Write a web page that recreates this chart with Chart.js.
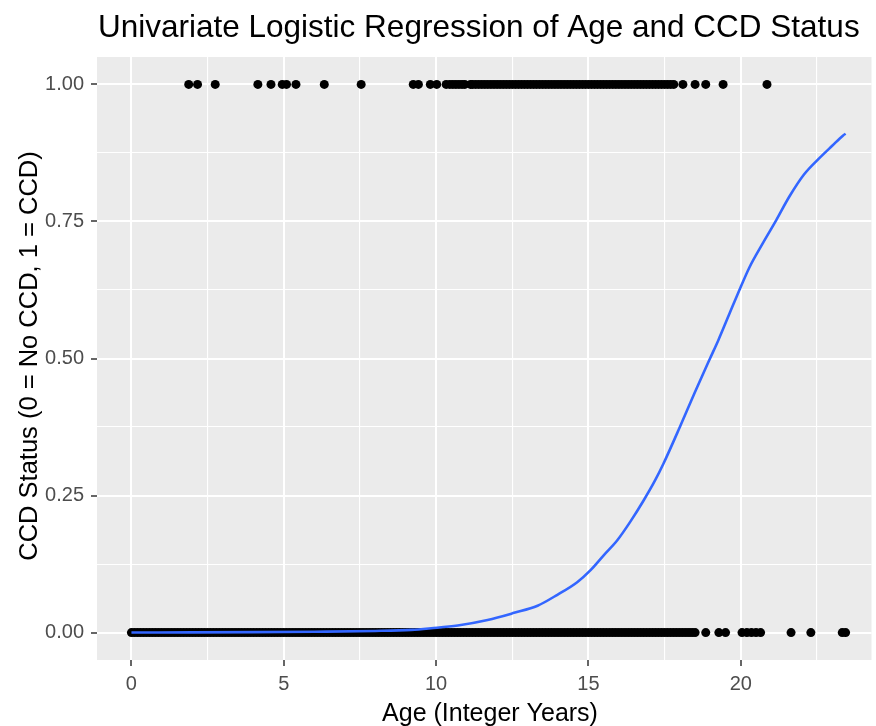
<!DOCTYPE html>
<html>
<head>
<meta charset="utf-8">
<script src="https://cdn.jsdelivr.net/npm/chart.js@4"></script>
<style>
html,body{margin:0;padding:0;background:#ffffff;}
canvas{display:block;}
</style>
</head>
<body>
<canvas id="c" width="876" height="726" style="width:876px;height:726px"></canvas>
<script>
// ---- data ----
const titleText = "Univariate Logistic Regression of Age and CCD Status";
const xTitle = "Age (Integer Years)";
const yTitle = "CCD Status (0 = No CCD, 1 = CCD)";

// ages of observations with CCD (status = 1)
const ccdAges = [1.88, 2.17, 2.75, 4.15, 4.58, 4.95, 5.09, 5.40, 6.33, 7.54,
  9.25, 9.42, 9.81, 10.02, 10.33, 10.45, 10.55, 10.65, 10.75, 10.85, 10.94,
  11.13, 11.2, 11.3, 11.4, 11.5, 11.6, 11.7, 11.8, 11.9,
  12, 12.1, 12.2, 12.3, 12.4, 12.5, 12.6, 12.7, 12.8, 12.9,
  13, 13.1, 13.2, 13.3, 13.4, 13.5, 13.6, 13.7, 13.8, 13.9,
  14, 14.1, 14.2, 14.3, 14.4, 14.5, 14.6, 14.7, 14.8, 14.9,
  15, 15.1, 15.2, 15.3, 15.4, 15.5, 15.6, 15.7, 15.8, 15.9,
  16, 16.1, 16.2, 16.3, 16.4, 16.5, 16.6, 16.7, 16.8, 16.9,
  17, 17.1, 17.2, 17.3, 17.4, 17.5, 17.6, 17.7, 17.8,
  18.1, 18.5, 18.85, 19.42, 20.86];

// ages of observations without CCD (status = 0)
const noCcdAges = [
  0, 0.1, 0.2, 0.3, 0.4, 0.5, 0.6, 0.7, 0.8, 0.9,
  1, 1.1, 1.2, 1.3, 1.4, 1.5, 1.6, 1.7, 1.8, 1.9,
  2, 2.1, 2.2, 2.3, 2.4, 2.5, 2.6, 2.7, 2.8, 2.9,
  3, 3.1, 3.2, 3.3, 3.4, 3.5, 3.6, 3.7, 3.8, 3.9,
  4, 4.1, 4.2, 4.3, 4.4, 4.5, 4.6, 4.7, 4.8, 4.9,
  5, 5.1, 5.2, 5.3, 5.4, 5.5, 5.6, 5.7, 5.8, 5.9,
  6, 6.1, 6.2, 6.3, 6.4, 6.5, 6.6, 6.7, 6.8, 6.9,
  7, 7.1, 7.2, 7.3, 7.4, 7.5, 7.6, 7.7, 7.8, 7.9,
  8, 8.1, 8.2, 8.3, 8.4, 8.5, 8.6, 8.7, 8.8, 8.9,
  9, 9.1, 9.2, 9.3, 9.4, 9.5, 9.6, 9.7, 9.8, 9.9,
  10, 10.1, 10.2, 10.3, 10.4, 10.5, 10.6, 10.7, 10.8, 10.9,
  11, 11.1, 11.2, 11.3, 11.4, 11.5, 11.6, 11.7, 11.8, 11.9,
  12, 12.1, 12.2, 12.3, 12.4, 12.5, 12.6, 12.7, 12.8, 12.9,
  13, 13.1, 13.2, 13.3, 13.4, 13.5, 13.6, 13.7, 13.8, 13.9,
  14, 14.1, 14.2, 14.3, 14.4, 14.5, 14.6, 14.7, 14.8, 14.9,
  15, 15.1, 15.2, 15.3, 15.4, 15.5, 15.6, 15.7, 15.8, 15.9,
  16, 16.1, 16.2, 16.3, 16.4, 16.5, 16.6, 16.7, 16.8, 16.9,
  17, 17.1, 17.2, 17.3, 17.4, 17.5, 17.6, 17.7, 17.8, 17.9,
  18, 18.1, 18.2, 18.3, 18.4, 18.5,
  18.85, 19.28, 19.5, 20.04, 20.2, 20.35, 20.5, 20.65, 21.65, 22.3, 23.33, 23.44];

// fitted logistic curve
const curveAges  = [0, 2, 4, 6, 8, 9.19, 9.84, 10.71, 11.69, 12.56, 13.33, 13.98,
  14.63, 15.07, 15.50, 15.94, 16.37, 16.81, 17.19, 17.46, 18.0, 18.49, 18.99,
  19.26, 19.63, 19.91, 20.29, 20.72, 21.16, 21.59, 22.08, 22.57, 23.0, 23.36, 23.44];
const curveProbs = [0.0002, 0.0004, 0.0008, 0.0016, 0.003, 0.005, 0.008, 0.013,
  0.023, 0.036, 0.049, 0.069, 0.092, 0.114, 0.141, 0.168, 0.202, 0.241, 0.278,
  0.308, 0.375, 0.438, 0.500, 0.533, 0.582, 0.619, 0.667, 0.710, 0.752, 0.795,
  0.836, 0.865, 0.888, 0.907, 0.910];

const xMajorTicks = [0, 5, 10, 15, 20];
const xMinorTicks = [2.5, 7.5, 12.5, 17.5, 22.5];
const yMajorTicks = [0, 0.25, 0.5, 0.75, 1];
const yMinorTicks = [0.125, 0.375, 0.625, 0.875];
const yTickLabels = ["0.00", "0.25", "0.50", "0.75", "1.00"];

// ---- chart ----
const FONT = "'Liberation Sans', Arial, Helvetica, sans-serif";
const isIn = (arr, v) => arr.some(a => Math.abs(a - v) < 1e-9);

const panelBg = {
  id: 'panelBg',
  beforeDraw(chart) {
    const {ctx, chartArea: a} = chart;
    ctx.save();
    ctx.fillStyle = '#EBEBEB';
    ctx.fillRect(a.left, a.top, a.right - a.left, a.bottom - a.top);
    ctx.restore();
  }
};

const titles = {
  id: 'titles',
  afterDraw(chart) {
    const {ctx, chartArea: a} = chart;
    ctx.save();
    ctx.fillStyle = '#000000';
    ctx.textBaseline = 'alphabetic';
    ctx.font = "31.5px " + FONT;
    ctx.textAlign = 'left';
    ctx.fillText(titleText, a.left + 1, 37);
    ctx.font = "25px " + FONT;
    ctx.textAlign = 'center';
    ctx.fillText(xTitle, 490, 721);
    ctx.font = "25.5px " + FONT;
    ctx.translate(37, 356);
    ctx.rotate(-Math.PI / 2);
    ctx.fillText(yTitle, 0, 0);
    ctx.restore();
  }
};

const ccdPoints = ccdAges.map(x => ({x: x, y: 1}));
const noCcdPoints = noCcdAges.map(x => ({x: x, y: 0}));
const curvePoints = curveAges.map((x, i) => ({x: x, y: curveProbs[i]}));

new Chart(document.getElementById('c'), {
  type: 'scatter',
  data: {
    datasets: [
      {
        type: 'line',
        data: curvePoints,
        borderColor: '#3366FF',
        borderWidth: 2.6,
        pointRadius: 0,
        fill: false,
        cubicInterpolationMode: 'monotone',
        order: 0
      },
      {
        data: ccdPoints,
        backgroundColor: '#000000',
        borderWidth: 0,
        pointRadius: 4.5,
        order: 1
      },
      {
        data: noCcdPoints,
        backgroundColor: '#000000',
        borderWidth: 0,
        pointRadius: 4.5,
        order: 2
      }
    ]
  },
  options: {
    responsive: false,
    animation: false,
    events: [],
    layout: {padding: {top: 57, left: 0, right: 0, bottom: 0}},
    plugins: {legend: {display: false}, tooltip: {enabled: false}, title: {display: false}},
    scales: {
      x: {
        type: 'linear',
        min: -1.13,
        max: 24.29,
        afterBuildTicks: s => { s.ticks = xMajorTicks.concat(xMinorTicks).sort((a, b) => a - b).map(v => ({value: v})); },
        afterFit: s => { s.height = 66; },
        border: {display: false},
        grid: {
          color: '#FFFFFF',
          lineWidth: c => isIn(xMajorTicks, c.tick.value) ? 2 : 1.1,
          tickColor: c => isIn(xMajorTicks, c.tick.value) ? '#333333' : 'rgba(0,0,0,0)',
          tickLength: 6,
          tickWidth: 1.5
        },
        ticks: {
          autoSkip: false,
          maxRotation: 0,
          padding: 6,
          color: '#4D4D4D',
          font: {size: 20, family: FONT},
          callback: v => isIn(xMajorTicks, v) ? String(v) : ''
        }
      },
      y: {
        type: 'linear',
        min: -0.05,
        max: 1.05,
        afterBuildTicks: s => { s.ticks = yMajorTicks.concat(yMinorTicks).sort((a, b) => a - b).map(v => ({value: v})); },
        afterFit: s => { s.width = 97; },
        border: {display: false},
        grid: {
          color: '#FFFFFF',
          lineWidth: c => isIn(yMajorTicks, c.tick.value) ? 2 : 1.1,
          tickColor: c => isIn(yMajorTicks, c.tick.value) ? '#333333' : 'rgba(0,0,0,0)',
          tickLength: 6,
          tickWidth: 1.5
        },
        ticks: {
          autoSkip: false,
          padding: 7,
          color: '#4D4D4D',
          font: {size: 20, family: FONT},
          callback: v => {
            const i = yMajorTicks.findIndex(a => Math.abs(a - v) < 1e-9);
            return i >= 0 ? yTickLabels[i] : '';
          }
        }
      }
    }
  },
  plugins: [panelBg, titles]
});
</script>
</body>
</html>
